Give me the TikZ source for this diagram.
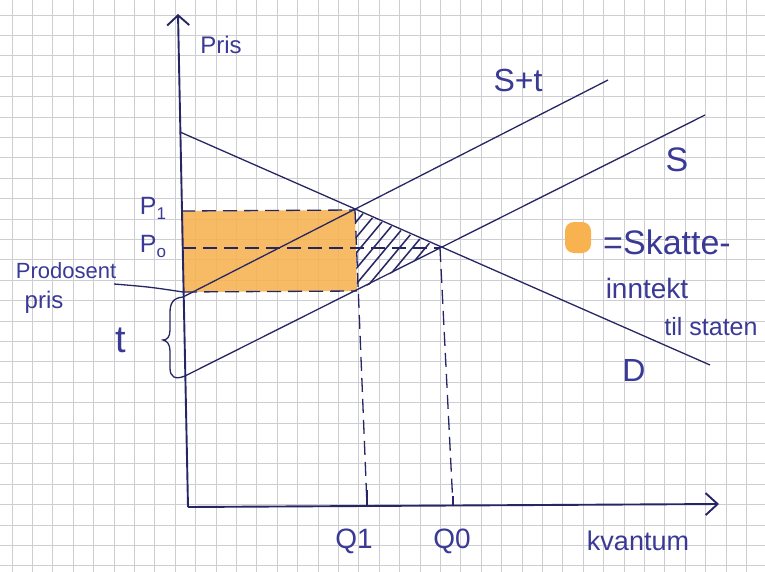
\documentclass[tikz,border=0pt]{standalone}
\usepackage{fontspec}
\setmainfont{Liberation Sans}
\usetikzlibrary{arrows.meta}
\definecolor{inkc}{RGB}{38,38,100}
\definecolor{textc}{RGB}{58,58,150}
\definecolor{gridc}{RGB}{205,205,210}
\definecolor{orangec}{RGB}{248,178,80}
\begin{document}
\begin{tikzpicture}[x=1pt,y=-1pt,
  ink/.style={draw=inkc, line width=1.3pt},
  hatch/.style={draw=inkc, line width=1.5pt},
  axisline/.style={draw=inkc, line width=1.9pt},
  dashline/.style={draw=inkc, line width=1.3pt, dash pattern=on 14pt off 7pt},
  lbl/.style={text=textc, inner sep=0pt, font=\fontsize{#1}{#1}\selectfont},
  lbl/.default=24,
  gridline/.style={draw=gridc, line width=0.8pt}
]
\useasboundingbox (0,0) rectangle (765,572);
\fill[white] (0,0) rectangle (765,572);
% grid paper
\foreach \i in {0,...,37} \draw[gridline] ({12+20.4*\i},0) -- ({12+20.4*\i},572);
\foreach \j in {0,...,27} \draw[gridline] (0,{15+20.4*\j}) -- (765,{15+20.4*\j});

% key points
\coordinate (O) at (188,507);
\coordinate (Ytop) at (178,14);
\coordinate (Xend) at (719,504);
\coordinate (Dstart) at (180,132);
\coordinate (Dend) at (710,365);
\coordinate (Sstart) at (185,376);
\coordinate (Send) at (705,115);
\coordinate (STstart) at (183,297);
\coordinate (STend) at (608,80);
\coordinate (E1) at (355,210);
\coordinate (E0) at (440,248);
\coordinate (Pp) at (357,291);
\coordinate (P1ax) at (181,211);
\coordinate (P0ax) at (182,248);
\coordinate (Ppax) at (183,292);
\coordinate (Q1b) at (367,506);
\coordinate (Q0b) at (453,506);
\coordinate (ptr) at (114,284);

% tax revenue rectangle
\fill[orangec, fill opacity=0.88] (P1ax) -- (E1) -- (Pp) -- (Ppax) -- cycle;

% deadweight loss hatch
\begin{scope}
  \clip (E1) -- (E0) -- (Pp) -- cycle;
  \foreach \k in {0,...,10} \draw[hatch] ({278+13*\k},300) -- ++(80,-96);
\end{scope}

% dashed guide lines
\draw[dashline] (P1ax) -- (E1);
\draw[dashline] (P0ax) -- (E0);
\draw[dashline] (Ppax) -- (Pp);
\draw[dashline] (E1) -- (Q1b);
\draw[dashline] (E0) -- (Q0b);

% curves
\draw[ink] (Dstart) -- (Dend);
\draw[ink] (Sstart) -- (Send);
\draw[ink] (STstart) -- (STend);

% brace for t
\draw[ink] (STstart) .. controls (173,298) and (170,303) .. (170,313) -- (170,330)
  .. controls (170,337) and (167,340) .. (163,340)
  .. controls (167,341) and (170,344) .. (170,351) -- (170,368)
  .. controls (170,377) and (175,380) .. (Sstart);

% producer price pointer
\draw[ink] (ptr) .. controls (150,287) .. (Ppax);

% axes
\draw[axisline, -{Straight Barb[length=10pt,width=22pt,line width=1.9pt]}] (O) -- (Ytop);
\draw[axisline, -{Straight Barb[length=12pt,width=22pt,line width=1.9pt]}] (O) -- (Xend);
\draw[axisline] (Q1b) -- ++(0,-16);
\draw[axisline] (Q0b) -- ++(0,-10);

% legend swatch
\fill[orangec, rounded corners=9pt] (565,222) rectangle (591,253);

% labels
\node[lbl=24] (pris) at (221,45) {Pris};
\node[lbl=25] (p1) at (153,208) {P\raisebox{-5pt}{\fontsize{17}{17}\selectfont 1}};
\node[lbl=25] (p0) at (153,246) {P\raisebox{-5pt}{\fontsize{17}{17}\selectfont o}};
\node[lbl=22] (prod) at (66,271) {Prodosent};
\node[lbl=24] (prodp) at (44,302) {pris};
\node[lbl=38] (tl) at (121,340) {t};
\node[lbl=32] (stl) at (518,80) {S+t};
\node[lbl=34] (sl) at (677,160) {S};
\node[lbl=32] (dl) at (634,370) {D};
\node[lbl=28] (q1) at (354,541) {Q1};
\node[lbl=28] (q0) at (452,541) {Q0};
\node[lbl=27] (kv) at (638,541) {kvantum};
\node[lbl=34] (sk) at (667,242) {=Skatte-};
\node[lbl=28] (inn) at (647,288) {inntekt};
\node[lbl=25] (til) at (711,327) {til staten};
\end{tikzpicture}
\end{document}
